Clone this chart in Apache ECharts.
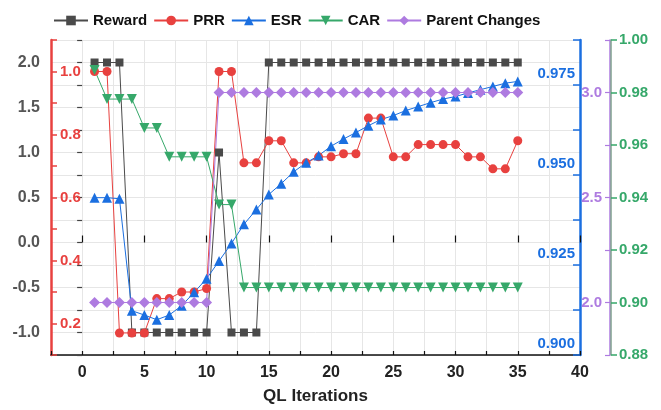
<!DOCTYPE html>
<html><head><meta charset="utf-8">
<script src="https://cdn.jsdelivr.net/npm/echarts@6/dist/echarts.min.js"></script>
<style>html,body{margin:0;padding:0;background:#fff}#c{width:661px;height:410px}</style>
</head><body><div id="c"></div>
<script>
const iterations = [1,2,3,4,5,6,7,8,9,10,11,12,13,14,15,16,17,18,19,20,21,22,23,24,25,26,27,28,29,30,31,32,33,34,35];
const reward = [2,2,2,-1,-1,-1,-1,-1,-1,-1,1,-1,-1,-1,2,2,2,2,2,2,2,2,2,2,2,2,2,2,2,2,2,2,2,2,2];
const prr = [1.0,1.0,0.170,0.170,0.170,0.279,0.279,0.300,0.300,0.311,1.0,1.0,0.710,0.710,0.780,0.780,0.710,0.710,0.729,0.729,0.739,0.739,0.852,0.852,0.729,0.729,0.768,0.768,0.768,0.768,0.729,0.729,0.691,0.691,0.780];
const esr = [0.9437,0.9437,0.9434,0.9123,0.9111,0.9098,0.9111,0.9137,0.9174,0.9212,0.9261,0.9310,0.9363,0.9404,0.9446,0.9476,0.9509,0.9534,0.9554,0.9580,0.9600,0.9618,0.9637,0.9654,0.9665,0.9679,0.9690,0.9701,0.9711,0.9718,0.9728,0.9737,0.9746,0.9755,0.9760];
const car = [0.9886,0.9775,0.9775,0.9775,0.9665,0.9665,0.9555,0.9555,0.9555,0.9555,0.9373,0.9373,0.9057,0.9057,0.9057,0.9057,0.9057,0.9057,0.9057,0.9057,0.9057,0.9057,0.9057,0.9057,0.9057,0.9057,0.9057,0.9057,0.9057,0.9057,0.9057,0.9057,0.9057,0.9057,0.9057];
const parentChanges = [2,2,2,2,2,2,2,2,2,2,3,3,3,3,3,3,3,3,3,3,3,3,3,3,3,3,3,3,3,3,3,3,3,3,3];
const seriesNames = ['Reward','PRR','ESR','CAR','Parent Changes'];
const xTitle = 'QL Iterations';

const C = {reward:'#4a4a4a', prr:'#e8413f', esr:'#1b6fe0', car:'#36a86a', parent:'#ae7be0'};
const FONT = '"Liberation Sans", Arial, sans-serif';
const pairs = arr => iterations.map((x,i)=>[x, arr[i]]);
const near = (a,b)=>Math.abs(a-b)<1e-6;

const chart = echarts.init(document.getElementById('c'), null, {renderer:'canvas'});
chart.setOption({
  animation:false,
  backgroundColor:'#fff',
  textStyle:{fontFamily:FONT},
  grid:{left:51, right:81, top:40, bottom:54, containLabel:false},
  legend:{
    data:seriesNames, left:48, top:8, itemWidth:34, itemHeight:12, itemGap:6,
    textStyle:{fontFamily:FONT, fontWeight:'bold', fontSize:15, color:'#111'}
  },
  xAxis:[{
    type:'value', min:-2.5, max:40, interval:2.5,
    name:xTitle, nameLocation:'middle', nameGap:33,
    nameTextStyle:{fontFamily:FONT, fontWeight:'bold', fontSize:17, color:'#222'},
    axisLine:{show:true, onZero:false, lineStyle:{color:'#111', width:1.5}},
    axisTick:{show:true, inside:true, length:4, lineStyle:{color:'#111', width:1.2}},
    axisLabel:{margin:10, fontFamily:FONT, fontWeight:'bold', fontSize:16, color:'#222',
      formatter:v=> (near(v/5, Math.round(v/5)) && v>=0) ? String(Math.round(v)) : ''},
    splitLine:{show:true, lineStyle:{color:'#e6e6e6', width:1}}
  },{
    type:'value', min:-2.5, max:40, position:'bottom',
    axisLine:{show:false},
    axisTick:{show:true, inside:true, length:7, customValues:[0,5,10,15,20,25,30,35,40], lineStyle:{color:'#111', width:1.2}},
    axisLabel:{show:false}, splitLine:{show:false}
  }],
  yAxis:[{
    type:'value', position:'left', min:-1.25, max:2.25, interval:0.25,
    axisLine:{show:false},
    axisTick:{show:true, inside:false, length:5, lineStyle:{color:'#444', width:1.2}},
    axisLabel:{margin:11, fontFamily:FONT, fontWeight:'bold', fontSize:16, color:'#555',
      formatter:v=> near(v*2, Math.round(v*2)) ? v.toFixed(1) : ''},
    splitLine:{show:true, lineStyle:{color:'#e6e6e6', width:1}}
  },{
    type:'value', position:'left', offset:0, min:0.1, max:1.1, interval:0.1,
    axisLine:{show:true, onZero:false, lineStyle:{color:C.prr, width:2.5}},
    axisTick:{show:true, inside:true, length:6, lineStyle:{color:C.prr, width:1.5}},
    axisLabel:{inside:true, margin:9, fontFamily:FONT, fontWeight:'bold', fontSize:15, color:C.prr,
      formatter:v=>{const t=Math.round(v*10); return (t%2===0)?(t/10).toFixed(1):'';}},
    splitLine:{show:false}
  },{
    type:'value', position:'right', offset:0, min:0.9, max:0.9875, interval:0.0125,
    axisLine:{show:true, onZero:false, lineStyle:{color:C.esr, width:2.5}},
    axisTick:{show:true, inside:true, length:7, lineStyle:{color:C.esr, width:1.5}},
    axisLabel:{inside:true, margin:5, verticalAlign:'bottom', padding:[0,0,4,0], fontFamily:FONT, fontWeight:'bold', fontSize:15, color:C.esr,
      formatter:v=>{const t=Math.round((v-0.9)/0.0125); return (t%2===0 && v<0.98)?v.toFixed(3):'';}},
    splitLine:{show:false}
  },{
    type:'value', position:'right', offset:30, min:1.75, max:3.25, interval:0.25,
    axisLine:{show:true, onZero:false, lineStyle:{color:C.parent, width:1.5}},
    axisTick:{show:true, inside:true, length:5, lineStyle:{color:C.parent, width:1.2}},
    axisLabel:{inside:true, margin:8, fontFamily:FONT, fontWeight:'bold', fontSize:15, color:C.parent,
      formatter:v=> near(v*2, Math.round(v*2)) ? v.toFixed(1) : ''},
    splitLine:{show:false}
  },{
    type:'value', position:'right', offset:31, min:0.88, max:1.0, interval:0.02,
    axisLine:{show:true, onZero:false, lineStyle:{color:'#7fa08e', width:1.5}},
    axisTick:{show:true, inside:false, length:6, lineStyle:{color:C.car, width:1.5}},
    axisLabel:{margin:8, fontFamily:FONT, fontWeight:'bold', fontSize:15, color:C.car,
      formatter:v=>v.toFixed(2)},
    splitLine:{show:false}
  }],
  series:[
    {name:seriesNames[0], type:'line', xAxisIndex:0, yAxisIndex:0, data:pairs(reward),
     symbol:'rect', symbolSize:8, itemStyle:{color:C.reward}, lineStyle:{color:C.reward, width:1}},
    {name:seriesNames[1], type:'line', xAxisIndex:0, yAxisIndex:1, data:pairs(prr),
     symbol:'circle', symbolSize:9, itemStyle:{color:C.prr}, lineStyle:{color:C.prr, width:1}},
    {name:seriesNames[2], type:'line', xAxisIndex:0, yAxisIndex:2, data:pairs(esr),
     symbol:'triangle', symbolSize:10, itemStyle:{color:C.esr}, lineStyle:{color:C.esr, width:1}},
    {name:seriesNames[3], type:'line', xAxisIndex:0, yAxisIndex:4, data:pairs(car),
     symbol:'triangle', symbolRotate:180, symbolSize:10, itemStyle:{color:C.car}, lineStyle:{color:C.car, width:1}},
    {name:seriesNames[4], type:'line', xAxisIndex:0, yAxisIndex:3, data:pairs(parentChanges),
     symbol:'diamond', symbolSize:11, itemStyle:{color:C.parent}, lineStyle:{color:C.parent, width:1}}
  ]
});
</script>
</body></html>
